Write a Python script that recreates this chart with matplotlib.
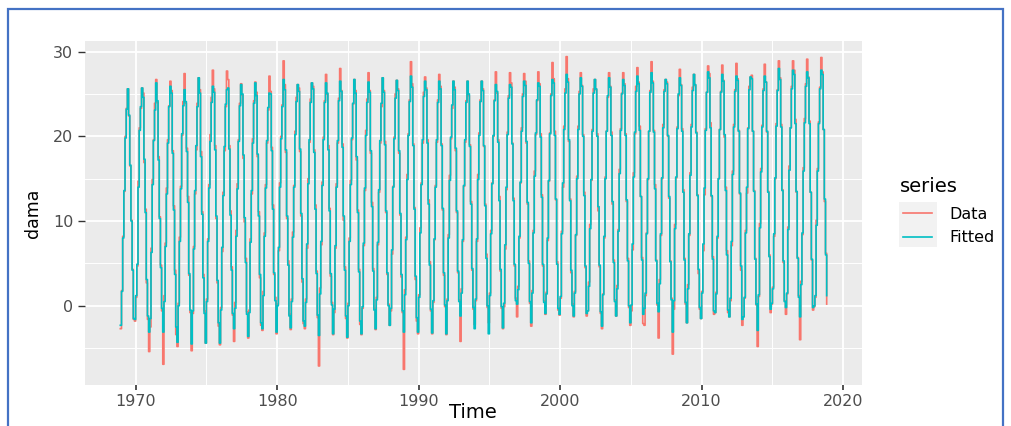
"""
Monthly 'dama' series vs fitted values, 1969-2018 (ggplot-like look)
"""

import numpy as np
import matplotlib
matplotlib.use("Agg")
import matplotlib.pyplot as plt
from matplotlib.lines import Line2D
from matplotlib.patches import Rectangle

# ============================================================================
# DATA - monthly values (Jan..Dec, one row per year)
# ============================================================================

FIRST_YEAR = 1969
# the series is drawn one month early on the time axis (first step at ~1968.92)
START_TIME = 1968 + 11 / 12

DATA_VALUES = [
    [-2.7, 1.8, 8.2, 13.5, 20.0, 23.3, 25.6, 22.4, 16.5, 10.1, 4.3, -1.6],   # 1969
    [-1.8, 1.0, 4.7, 14.7, 21.0, 23.3, 25.7, 25.1, 16.9, 11.4, 2.7, -1.6],   # 1970
    [-5.4, -2.5, 6.8, 14.9, 19.6, 23.9, 26.7, 24.0, 17.6, 10.5, 4.8, -0.6],  # 1971
    [-6.9, 1.2, 7.4, 13.9, 19.6, 23.6, 26.5, 25.4, 18.3, 11.8, 4.2, -3.4],   # 1972
    [-4.8, 0.3, 8.1, 14.1, 20.1, 24.1, 27.4, 23.9, 18.6, 12.9, 3.6, -0.8],   # 1973
    [-5.3, -0.9, 7.0, 13.2, 18.4, 23.9, 26.9, 25.5, 18.2, 11.1, 3.7, -0.6],  # 1974
    [-4.4, 0.8, 7.9, 14.3, 20.2, 24.6, 27.8, 25.6, 18.9, 10.3, 2.7, -2.4],   # 1975
    [-4.6, -0.2, 6.4, 13.4, 18.3, 23.5, 27.7, 26.7, 18.9, 11.2, 4.6, -1.1],  # 1976
    [-4.2, 0.4, 8.9, 14.4, 19.6, 23.9, 26.2, 24.9, 17.4, 9.9, 5.6, -0.7],    # 1977
    [-3.8, -0.5, 7.9, 13.2, 19.7, 24.2, 26.4, 25.2, 17.6, 11.1, 3.3, -2.3],  # 1978
    [-2.9, 1.7, 8.6, 14.3, 19.2, 23.1, 27.1, 25.3, 18.7, 11.9, 3.7, 1.0],    # 1979
    [-3.3, 0.2, 6.5, 14.5, 20.0, 23.7, 28.9, 26.1, 18.1, 10.3, 5.3, -1.0],   # 1980
    [-2.8, 0.8, 8.7, 14.2, 20.6, 24.6, 26.1, 25.7, 18.2, 10.6, 2.8, -2.1],   # 1981
    [-2.7, 0.8, 6.8, 15.0, 19.3, 24.4, 26.3, 25.9, 18.4, 11.9, 4.1, -1.4],   # 1982
    [-7.1, 2.1, 7.2, 14.6, 19.9, 24.2, 27.3, 25.0, 18.9, 11.5, 3.5, 0.4],    # 1983
    [-3.4, -0.8, 6.8, 14.4, 19.2, 24.5, 28.0, 25.4, 19.1, 10.1, 4.6, -1.5],  # 1984
    [-3.8, 0.3, 8.0, 14.8, 19.6, 23.8, 26.7, 25.4, 17.2, 11.3, 4.3, -2.2],   # 1985
    [-3.4, -0.3, 7.1, 13.6, 20.7, 24.4, 27.5, 25.4, 18.0, 12.2, 4.4, -0.3],  # 1986
    [-2.8, 1.0, 7.2, 13.4, 19.2, 23.5, 26.9, 25.4, 19.4, 11.0, 3.7, 0.2],    # 1987
    [-2.3, -0.6, 6.1, 14.1, 19.9, 25.0, 26.6, 25.6, 18.0, 10.7, 3.4, -0.8],  # 1988
    [-7.5, 1.9, 8.1, 15.5, 20.3, 24.3, 28.8, 26.2, 19.1, 11.6, 3.1, -1.8],   # 1989
    [-3.3, 1.3, 9.2, 14.5, 19.2, 25.2, 27.0, 25.7, 19.6, 12.5, 5.2, -0.6],   # 1990
    [-3.3, 0.4, 7.8, 14.2, 19.3, 24.3, 27.3, 25.9, 19.1, 11.3, 3.6, -0.1],   # 1991
    [-3.4, 0.8, 8.4, 15.4, 19.7, 23.3, 26.5, 25.8, 18.3, 11.0, 3.9, 0.7],    # 1992
    [-4.2, 2.0, 7.6, 14.1, 19.3, 24.2, 26.5, 24.8, 19.0, 12.3, 4.2, -0.4],   # 1993
    [-2.2, 0.6, 7.6, 15.5, 20.4, 24.3, 26.5, 25.6, 18.8, 12.0, 6.1, -0.2],   # 1994
    [-2.0, 1.5, 8.9, 14.5, 20.0, 24.3, 27.6, 25.1, 19.6, 12.9, 4.1, -0.3],   # 1995
    [-2.7, -0.1, 6.7, 13.7, 20.5, 24.8, 27.5, 26.3, 19.2, 12.7, 4.7, 0.9],   # 1996
    [-1.3, 2.3, 8.0, 14.5, 21.0, 25.0, 27.4, 26.5, 19.2, 12.0, 5.3, 0.3],    # 1997
    [-2.4, 1.8, 8.9, 15.9, 20.2, 24.2, 27.6, 26.2, 20.3, 13.1, 4.7, 0.6],    # 1998
    [-1.0, 1.6, 7.7, 14.7, 20.4, 25.0, 28.7, 26.8, 20.6, 12.5, 5.2, -0.5],   # 1999
    [-1.1, 0.9, 8.8, 14.0, 21.2, 25.6, 29.4, 26.8, 19.4, 12.6, 3.9, 0.2],    # 2000
    [-1.3, 1.7, 8.3, 15.3, 21.2, 25.3, 27.5, 26.0, 20.2, 13.4, 4.5, -1.2],   # 2001
    [-0.6, 2.8, 9.6, 14.8, 20.8, 25.6, 26.7, 25.5, 20.3, 11.2, 4.6, -0.9],   # 2002
    [-2.7, 1.4, 8.0, 15.2, 20.6, 24.6, 27.5, 25.9, 20.5, 12.0, 5.4, 0.7],    # 2003
    [-1.2, 2.4, 9.0, 16.1, 20.9, 25.1, 27.5, 26.2, 20.3, 12.3, 5.6, -0.2],   # 2004
    [-2.3, -0.6, 6.6, 15.7, 20.3, 25.9, 28.1, 26.4, 21.2, 12.9, 5.7, -2.1],  # 2005
    [-2.3, 1.2, 8.6, 14.9, 20.6, 25.4, 28.8, 26.5, 20.7, 14.3, 5.4, 0.1],    # 2006
    [-3.8, 3.1, 8.3, 15.0, 21.4, 25.5, 26.7, 26.4, 20.0, 12.7, 5.3, 0.9],    # 2007
    [-5.7, -0.4, 9.6, 15.1, 21.1, 24.8, 27.9, 26.1, 20.9, 13.7, 5.6, 0.2],   # 2008
    [-2.0, 2.5, 8.3, 15.7, 21.4, 25.8, 27.3, 26.0, 20.5, 13.1, 3.8, -0.4],   # 2009
    [-1.5, 1.7, 6.5, 13.1, 20.9, 25.2, 28.3, 27.4, 21.6, 12.9, 5.8, -1.0],   # 2010
    [-0.8, 1.6, 8.0, 15.0, 20.8, 25.3, 28.4, 26.6, 19.9, 14.0, 6.5, -0.8],   # 2011
    [-1.3, 0.6, 7.1, 15.9, 21.4, 25.5, 28.6, 26.8, 20.7, 13.2, 4.2, -2.3],   # 2012
    [-1.3, 0.9, 8.9, 13.3, 21.0, 25.9, 27.0, 27.2, 20.6, 13.6, 5.6, 0.1],    # 2013
    [-4.8, 1.1, 9.7, 16.2, 21.3, 25.6, 28.5, 26.4, 20.5, 13.5, 6.0, -0.8],   # 2014
    [0.2, 2.2, 8.2, 15.0, 21.5, 25.5, 28.9, 26.9, 21.4, 13.7, 5.1, 0.6],     # 2015
    [-1.0, 1.4, 9.3, 16.5, 21.0, 25.9, 28.9, 27.8, 22.0, 13.4, 5.7, 1.2],    # 2016
    [-4.0, 2.9, 8.4, 16.3, 22.1, 26.2, 29.1, 27.0, 21.8, 13.4, 5.4, -0.5],   # 2017
    [-0.1, 1.0, 10.1, 16.2, 21.7, 25.8, 29.3, 27.6, 20.8, 12.3, 6.2, 0.2],   # 2018
]

FITTED_VALUES = [
    [-2.3, 1.7, 8.0, 13.6, 19.8, 23.2, 25.6, 22.5, 16.6, 10.0, 4.2, -1.5],   # 1969
    [-1.6, 1.2, 4.9, 14.0, 20.7, 23.5, 25.7, 24.6, 17.3, 11.0, 3.1, -1.2],   # 1970
    [-3.1, -1.5, 6.3, 14.3, 19.5, 23.1, 26.3, 24.2, 17.2, 10.3, 4.5, -0.3],  # 1971
    [-3.1, 0.5, 7.0, 13.2, 19.2, 23.5, 25.9, 25.1, 18.0, 11.3, 3.7, -2.5],   # 1972
    [-4.3, 0.0, 7.6, 13.8, 20.3, 23.6, 25.5, 24.1, 18.2, 12.2, 3.8, -0.5],   # 1973
    [-4.5, -0.6, 6.7, 13.6, 18.9, 23.5, 26.9, 25.1, 17.6, 10.8, 3.3, -0.9],  # 1974
    [-4.4, 0.5, 7.6, 13.9, 19.4, 24.0, 25.9, 25.2, 18.4, 10.6, 3.0, -2.0],   # 1975
    [-4.4, -0.5, 6.9, 13.0, 18.8, 23.8, 25.5, 25.7, 18.5, 10.7, 4.2, -0.9],  # 1976
    [-2.7, -0.3, 8.2, 13.8, 19.4, 23.6, 26.1, 25.0, 17.8, 10.4, 5.1, -1.0],  # 1977
    [-3.6, -0.8, 7.5, 13.6, 19.2, 23.9, 26.3, 24.8, 17.9, 10.6, 3.7, -2.0],  # 1978
    [-2.7, 1.2, 8.2, 13.9, 19.5, 23.4, 25.1, 25.0, 18.3, 11.4, 3.9, 0.6],    # 1979
    [-3.1, 0.0, 6.9, 14.0, 19.7, 23.5, 26.7, 25.5, 18.4, 10.6, 4.8, -1.2],   # 1980
    [-2.6, 0.5, 8.1, 14.0, 20.2, 24.1, 26.1, 25.3, 18.5, 10.9, 3.2, -1.8],   # 1981
    [-2.4, 0.4, 7.3, 14.4, 19.6, 24.0, 26.3, 25.6, 18.1, 11.4, 3.8, -1.1],   # 1982
    [-3.5, 1.4, 7.6, 14.2, 19.6, 24.0, 26.3, 25.1, 18.4, 11.2, 3.8, 0.1],    # 1983
    [-3.3, -0.4, 7.1, 14.0, 19.5, 24.2, 26.5, 25.3, 18.7, 10.6, 4.2, -1.2],  # 1984
    [-3.7, 0.0, 7.6, 14.3, 19.8, 23.9, 26.7, 25.1, 17.6, 11.0, 4.0, -1.8],   # 1985
    [-3.3, -0.1, 7.4, 13.9, 20.1, 24.0, 26.4, 25.2, 18.3, 11.7, 4.1, -0.5],  # 1986
    [-2.7, 0.7, 7.5, 13.7, 19.5, 23.9, 26.9, 25.2, 19.0, 11.2, 3.9, 0.0],    # 1987
    [-2.3, -0.3, 6.6, 14.0, 19.7, 24.5, 26.6, 25.4, 18.3, 10.9, 3.7, -0.6],  # 1988
    [-3.1, 1.3, 7.8, 14.9, 20.1, 24.1, 27.1, 25.8, 18.9, 11.4, 3.5, -1.4],   # 1989
    [-3.1, 1.0, 8.6, 14.3, 19.6, 24.7, 26.5, 25.5, 19.2, 12.0, 4.8, -0.4],   # 1990
    [-3.2, 0.6, 7.9, 14.0, 19.6, 24.0, 26.5, 25.6, 18.9, 11.5, 3.9, 0.1],    # 1991
    [-3.3, 0.6, 8.0, 14.8, 19.9, 23.7, 26.5, 25.5, 18.6, 11.2, 4.1, 0.5],    # 1992
    [-1.2, 1.5, 7.8, 14.2, 19.6, 24.0, 26.5, 25.0, 18.8, 12.0, 4.4, -0.2],   # 1993
    [-2.7, 0.8, 7.9, 14.9, 20.1, 24.1, 26.5, 25.4, 18.9, 11.8, 5.6, 0.0],    # 1994
    [-3.3, 1.2, 8.5, 14.4, 20.1, 24.2, 26.1, 25.3, 19.3, 12.4, 4.3, -0.1],   # 1995
    [-2.6, 0.3, 7.2, 14.0, 20.2, 24.5, 26.1, 25.8, 19.1, 12.4, 4.9, 0.6],    # 1996
    [0.2, 1.9, 8.2, 14.6, 20.6, 24.7, 26.5, 26.0, 19.4, 12.2, 5.0, 0.5],     # 1997
    [-2.0, 1.5, 8.6, 15.3, 20.4, 24.3, 26.3, 25.9, 19.9, 12.8, 4.9, 0.4],    # 1998
    [-0.9, 1.4, 8.0, 14.8, 20.3, 24.8, 26.7, 26.3, 20.1, 12.6, 4.9, -0.3],   # 1999
    [-1.0, 1.1, 8.5, 14.5, 20.8, 25.1, 27.3, 26.4, 19.6, 12.4, 4.2, 0.0],    # 2000
    [-1.2, 1.5, 8.4, 15.0, 20.8, 25.0, 26.9, 25.9, 20.0, 13.0, 4.7, -0.9],   # 2001
    [-0.6, 2.3, 9.1, 14.9, 20.6, 25.1, 26.7, 25.6, 20.0, 11.7, 4.8, -0.7],   # 2002
    [-2.4, 1.3, 8.2, 15.0, 20.6, 24.8, 26.9, 25.8, 20.1, 12.3, 5.1, 0.5],    # 2003
    [-1.2, 2.0, 8.8, 15.6, 20.7, 25.0, 26.7, 26.0, 20.1, 12.5, 5.3, 0.0],    # 2004
    [-2.0, 0.1, 7.3, 15.2, 20.5, 25.3, 27.1, 26.2, 20.7, 12.9, 5.4, -1.0],   # 2005
    [-0.3, 1.5, 8.5, 15.0, 20.6, 25.2, 27.5, 26.3, 20.5, 13.8, 5.3, 0.3],    # 2006
    [-0.7, 2.6, 8.5, 15.1, 21.0, 25.3, 26.7, 26.2, 20.1, 12.9, 5.2, 0.7],    # 2007
    [-3.1, 0.6, 9.1, 15.2, 20.9, 25.0, 26.9, 26.0, 20.6, 13.4, 5.4, 0.4],    # 2008
    [-2.0, 2.0, 8.5, 15.4, 21.1, 25.4, 27.3, 26.1, 20.4, 13.0, 4.3, -0.2],   # 2009
    [-1.5, 1.5, 7.3, 13.9, 20.7, 25.2, 27.6, 26.9, 21.0, 13.0, 5.5, -0.6],   # 2010
    [-0.8, 1.4, 8.2, 15.0, 20.8, 25.2, 27.3, 26.5, 20.2, 13.6, 6.0, -0.5],   # 2011
    [-1.3, 0.9, 7.6, 15.5, 21.1, 25.3, 27.1, 26.6, 20.6, 13.3, 4.7, -1.6],   # 2012
    [-1.3, 1.0, 8.6, 14.0, 20.9, 25.5, 27.0, 26.8, 20.6, 13.5, 5.5, 0.2],    # 2013
    [-2.9, 1.3, 9.2, 15.8, 21.1, 25.4, 27.1, 26.4, 20.6, 13.4, 5.8, -0.4],   # 2014
    [0.3, 2.0, 8.5, 15.1, 21.2, 25.4, 28.0, 26.7, 21.1, 13.6, 5.3, 0.5],     # 2015
    [-0.2, 1.5, 9.0, 16.0, 21.0, 25.6, 27.8, 27.3, 21.5, 13.5, 5.6, 1.0],    # 2016
    [-1.3, 2.5, 8.6, 15.9, 21.6, 25.9, 27.6, 26.9, 21.5, 13.4, 5.5, -0.2],   # 2017
    [0.0, 1.2, 9.5, 15.9, 21.5, 25.6, 27.8, 27.3, 20.8, 12.6, 6.0, 1.2],     # 2018
]

SERIES_LABELS = ["Data", "Fitted"]
SERIES_COLORS = ["#F8766D", "#00BFC4"]

X_TICKS = [1970, 1980, 1990, 2000, 2010, 2020]
X_MINOR = [1975, 1985, 1995, 2005, 2015]
Y_TICKS = [0, 10, 20, 30]
Y_MINOR = [-5, 5, 15, 25]

# ============================================================================

W, H = 1011, 426
PANEL_BG = "#EBEBEB"
TICK_TEXT = "#4D4D4D"


def px(x, y):
    """pixel position (from top-left) -> figure fraction"""
    return x / W, 1 - y / H


def main():
    data = np.array(DATA_VALUES).ravel()
    fitted = np.array(FITTED_VALUES).ravel()
    time = START_TIME + np.arange(len(data)) / 12

    plt.rcParams['font.family'] = ['DejaVu Sans']
    fig = plt.figure(figsize=(W / 100, H / 100), dpi=100)
    fig.patch.set_facecolor("white")

    # panel
    left, top = px(85, 41)
    right, bottom = px(862, 385)
    ax = fig.add_axes([left, bottom, right - left, top - bottom])
    ax.set_facecolor(PANEL_BG)
    for s in ax.spines.values():
        s.set_visible(False)

    ax.plot(time, data, drawstyle='steps-post', color=SERIES_COLORS[0], linewidth=1.2)
    ax.plot(time, fitted, drawstyle='steps-post', color=SERIES_COLORS[1], linewidth=1.2)
    ax.margins(x=0.05, y=0.05)

    ax.set_xticks(X_TICKS)
    ax.set_xticks(X_MINOR, minor=True)
    ax.set_yticks(Y_TICKS)
    ax.set_yticks(Y_MINOR, minor=True)
    ax.grid(True, which='major', color='white', linewidth=1.3)
    ax.grid(True, which='minor', color='white', linewidth=0.7)
    ax.set_axisbelow(True)

    ax.tick_params(axis='x', which='major', length=3.3, width=1.2, color='#333333',
                   labelsize=11.5, labelcolor=TICK_TEXT, pad=3.3)
    ax.tick_params(axis='y', which='major', length=5, width=1.0, color='#333333',
                   labelsize=11.5, labelcolor=TICK_TEXT, pad=3.4)
    ax.tick_params(which='minor', length=0)

    # axis titles
    fig.text(*px(473, 413), "Time", fontsize=14, ha='center', va='center')
    fig.text(*px(33, 213), "dama", fontsize=12.5, rotation=90, ha='center', va='center')

    # legend
    fig.text(*px(900, 187), "series", fontsize=14, ha='left', va='center')
    kx0, ky0 = px(899, 247)
    kx1, ky1 = px(937, 202)
    fig.add_artist(Rectangle((kx0, ky0), kx1 - kx0, ky1 - ky0, transform=fig.transFigure,
                             facecolor="#F2F2F2", edgecolor='none'))
    for label, color, ypix in zip(SERIES_LABELS, SERIES_COLORS, [213, 237]):
        x0, y0 = px(903, ypix)
        x1, _ = px(932, ypix)
        fig.add_artist(Line2D([x0, x1], [y0, y0], transform=fig.transFigure,
                              color=color, linewidth=1.2))
        fig.text(*px(949, ypix + 1), label, fontsize=11.5, ha='left', va='center')

    # blue frame of the original screenshot
    bx0, by0 = px(8, 440)
    bx1, by1 = px(1003, 9)
    fig.add_artist(Rectangle((bx0, by0), bx1 - bx0, by1 - by0, transform=fig.transFigure,
                             facecolor='none', edgecolor="#4472C4", linewidth=1.6,
                             clip_on=False))

    fig.savefig("out.png", dpi=100)
    plt.close(fig)
    print("Created: out.png")


if __name__ == "__main__":
    main()
